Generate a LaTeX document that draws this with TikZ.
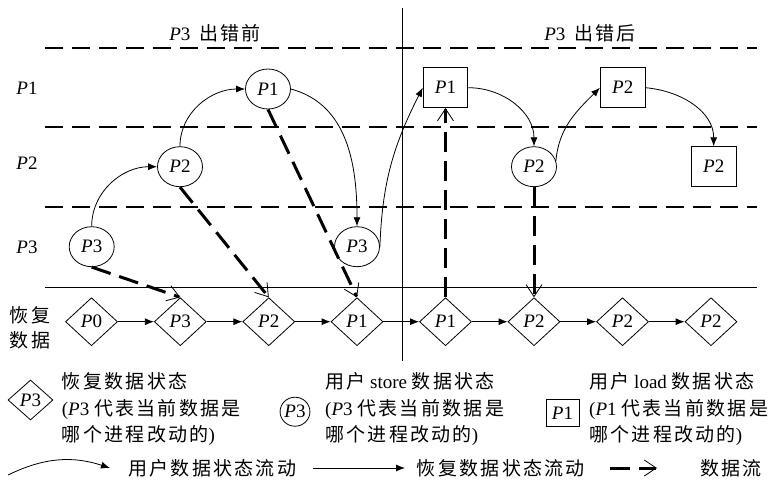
\documentclass[tikz,border=0pt]{standalone}
\usepackage{fontspec}
\setmainfont{Liberation Serif}
\newfontfamily\zh{Noto Sans CJK SC}[LetterSpace=12]
\usetikzlibrary{shapes.geometric,arrows.meta}
\newcommand\pn[1]{\textit{P}#1}
\begin{document}
\begin{tikzpicture}[x=1pt,y=1pt,
  every node/.style={font=\fontsize{19}{22}\selectfont},
  lane/.style={dash pattern=on 18pt off 9pt, line width=2.2pt},
  thinline/.style={line width=0.8pt},
  usr/.style={ellipse, draw, line width=0.8pt, fill=white, minimum width=45pt, minimum height=40pt, inner sep=0pt},
  ld/.style={rectangle, draw, line width=0.8pt, fill=white, minimum width=44.7pt, minimum height=40pt, inner sep=0pt},
  rec/.style={diamond, draw, line width=0.8pt, fill=white, minimum width=52pt, minimum height=48pt, inner sep=0pt},
  uflow/.style={line width=0.8pt, -{Latex[length=9pt,width=7pt]}},
  rflow/.style={line width=0.8pt, -{Latex[length=9pt,width=7pt]}},
  dflow/.style={line width=3pt, dash pattern=on 20pt off 9pt, -{Straight Barb[length=12pt,width=16pt,line width'=0.8pt]}},
  legtext/.style={anchor=west, align=left, inner sep=0pt, font=\fontsize{19}{26.3}\selectfont},
  lefttext/.style={anchor=west, inner sep=0pt},
]
\useasboundingbox (0,0) rectangle (769,-483);

% lanes and separators
\draw[lane] (45,-48) -- (757,-48);
\draw[lane] (45,-127) -- (757,-127);
\draw[lane] (45,-207) -- (757,-207);
\draw[thinline] (45,-287) -- (757,-287);
\draw[thinline] (402,-8) -- (402,-361);

% headings
\node (h1) at (215,-33) {\pn3\hspace{4pt} {\zh 出错前}};
\node (h2) at (590,-33) {\pn3\hspace{4pt} {\zh 出错后}};

% row labels
\node (rl1) at (27,-88) {\pn1};
\node (rl2) at (27,-163) {\pn2};
\node (rl3) at (27,-247) {\pn3};
\node[align=center, font=\zh\fontsize{19}{25}\selectfont] (rl4) at (30,-327.5) {恢复\\数据};

% user state nodes
\node[usr] (ua) at (91.7,-246.7) {\pn3};
\node[usr] (ub) at (180,-166.7) {\pn2};
\node[usr] (uc) at (268,-89) {\pn1};
\node[usr] (ud) at (357,-246.7) {\pn3};
\node[ld]  (la) at (445.5,-87.7) {\pn1};
\node[usr] (ue) at (534,-166.7) {\pn2};
\node[ld]  (lb) at (622.7,-87.7) {\pn2};
\node[ld]  (lc) at (713.7,-166.7) {\pn2};

% recovery data nodes
\node[rec] (r0) at (91.5,-321.7) {\pn0};
\node[rec] (r1) at (180.3,-321.7) {\pn3};
\node[rec] (r2) at (268.8,-321.7) {\pn2};
\node[rec] (r3) at (357,-321.7) {\pn1};
\node[rec] (r4) at (445.5,-321.7) {\pn1};
\node[rec] (r5) at (534,-321.7) {\pn2};
\node[rec] (r6) at (622.5,-321.7) {\pn2};
\node[rec] (r7) at (711,-321.7) {\pn2};

% recovery flow
\draw[rflow] (r0) -- (r1);
\draw[rflow] (r1) -- (r2);
\draw[rflow] (r2) -- (r3);
\draw[rflow] (r3) -- (r4);
\draw[rflow] (r4) -- (r5);
\draw[rflow] (r5) -- (r6);
\draw[rflow] (r6) -- (r7);

% user state flow
\draw[uflow] (ua.north) to[out=90,in=180] (ub.west);
\draw[uflow] (ub.north) to[out=90,in=180] (uc.west);
\draw[uflow] (uc.east) to[out=-15,in=90] (ud.north);
\draw[uflow] (ud.east) to[out=88,in=243] (la.west);
\draw[uflow] (la.east) to[out=0,in=90] (ue.north);
\draw[uflow] (ue.15) to[out=85,in=225] (lb.west);
\draw[uflow] (lb.east) to[out=-5,in=90] (lc.north);

% data flow
\draw[dflow] (ua.south) -- (r1.north);
\draw[dflow] (ub.south) -- (r2.north);
\draw[dflow] (uc.south) -- (r3.north);
\draw[dflow] (r4.north) -- (la.south);
\draw[dflow] (ue.south) -- (r5.north);

% legend shapes
\node[rec, minimum width=45pt, minimum height=40pt] (kd) at (30.5,-400) {\pn3};
\node[usr, minimum width=29pt, minimum height=29pt] (ku) at (295,-411.7) {\pn3};
\node[ld, minimum width=33pt, minimum height=27pt] (kl) at (562.5,-413) {\pn1};

\node[legtext] (kdt) at (61.7,-409) {{\zh 恢复数据状态}\\(\pn3 {\zh 代表当前数据是}\\{\zh 哪个进程改动的})};
\node[legtext] (kut) at (325,-409) {{\zh 用户} store {\zh 数据状态}\\(\pn3 {\zh 代表当前数据是}\\{\zh 哪个进程改动的})};
\node[legtext] (klt) at (589,-409) {{\zh 用户} load {\zh 数据状态}\\(\pn1 {\zh 代表当前数据是}\\{\zh 哪个进程改动的})};

% legend connectors
\coordinate (k1a) at (8,-475);
\coordinate (k1b) at (110,-468);
\draw[uflow] (k1a) to[bend left=22] (k1b);
\node[lefttext] (k1t) at (128,-468) {\zh 用户数据状态流动};
\coordinate (k2a) at (313,-468);
\coordinate (k2b) at (405,-468);
\draw[rflow] (k2a) -- (k2b);
\node[lefttext] (k2t) at (416.7,-468) {\zh 恢复数据状态流动};
\coordinate (k3a) at (610,-468);
\coordinate (k3b) at (657,-468);
\draw[dflow] (k3a) -- (k3b);
\node[lefttext] (k3t) at (700,-468) {\zh 数据流};
\end{tikzpicture}
\end{document}
